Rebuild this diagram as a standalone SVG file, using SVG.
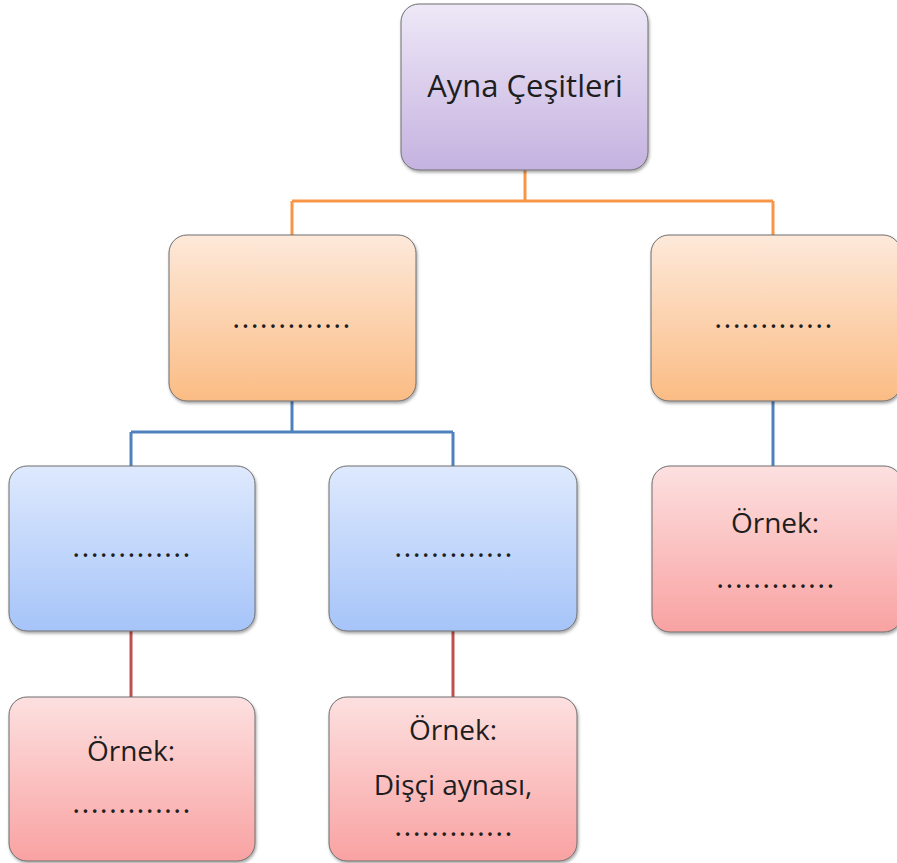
<svg xmlns="http://www.w3.org/2000/svg" width="897" height="863" viewBox="0 0 897 863">
<defs>
<linearGradient id="gPurple" x1="0" y1="0" x2="0" y2="1"><stop offset="0" stop-color="#EEE8F7"/><stop offset="1" stop-color="#C5B2E0"/></linearGradient>
<linearGradient id="gOrange" x1="0" y1="0" x2="0" y2="1"><stop offset="0" stop-color="#FDE9DA"/><stop offset="1" stop-color="#FBBC84"/></linearGradient>
<linearGradient id="gBlue" x1="0" y1="0" x2="0" y2="1"><stop offset="0" stop-color="#DEE9FD"/><stop offset="1" stop-color="#A6C4F9"/></linearGradient>
<linearGradient id="gPink" x1="0" y1="0" x2="0" y2="1"><stop offset="0" stop-color="#FDE0E0"/><stop offset="1" stop-color="#F9A2A2"/></linearGradient>
<filter id="sh" x="-10%" y="-10%" width="120%" height="125%"><feDropShadow dx="1" dy="2" stdDeviation="1.5" flood-color="#000" flood-opacity="0.35"/></filter>
</defs>
<style>
.box{stroke:#6E6E6E;stroke-width:1;filter:url(#sh)}
.t{font-family:"Open Sans","Noto Sans",sans-serif;font-size:28px;fill:#1E1E1E;text-anchor:middle}
.d{font-size:30px;letter-spacing:1.3px}
.c{fill:none;stroke-width:3}
</style>
<g id="connectors">
<path class="c" stroke="#F79646" d="M525,170 V201 M292,201 H773 M292,201 V236 M773,201 V236"/>
<path class="c" stroke="#4F81BD" d="M292,401 V432 M131,432 H453 M131,432 V466 M453,432 V466 M773,401 V466"/>
<path class="c" stroke="#C0504D" d="M131,631 V697 M453,631 V697"/>
</g>
<g id="root"><rect class="box" x="401" y="4" width="247" height="166" rx="18" fill="url(#gPurple)"/><text class="t" x="525" y="97" style="font-size:31px">Ayna Çeşitleri</text></g>
<g id="n1"><rect class="box" x="169" y="235" width="247" height="166" rx="18" fill="url(#gOrange)"/><text class="t d" x="292" y="328">.............</text></g>
<g id="n2"><rect class="box" x="651" y="235" width="250" height="166" rx="18" fill="url(#gOrange)"/><text class="t d" x="774" y="328">.............</text></g>
<g id="n3"><rect class="box" x="9" y="466" width="246" height="165" rx="18" fill="url(#gBlue)"/><text class="t d" x="132" y="557">.............</text></g>
<g id="n4"><rect class="box" x="329" y="466" width="248" height="165" rx="18" fill="url(#gBlue)"/><text class="t d" x="454" y="557">.............</text></g>
<g id="n5"><rect class="box" x="652" y="466" width="250" height="166" rx="18" fill="url(#gPink)"/><text class="t" x="775" y="533">Örnek:</text><text class="t d" x="776" y="588">.............</text></g>
<g id="n6"><rect class="box" x="9" y="697" width="246" height="164" rx="18" fill="url(#gPink)"/><text class="t" x="131" y="761">Örnek:</text><text class="t d" x="132" y="813">.............</text></g>
<g id="n7"><rect class="box" x="329" y="697" width="248" height="164" rx="18" fill="url(#gPink)"/><text class="t" x="453" y="740">Örnek:</text><text class="t" x="453" y="795">Dişçi aynası,</text><text class="t d" x="454" y="836">.............</text></g>
</svg>
